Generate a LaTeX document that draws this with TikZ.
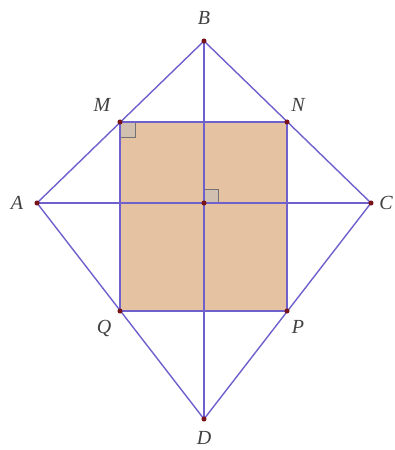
\documentclass[tikz,border=0pt]{standalone}
\usepackage{fontspec}
\setmainfont{Liberation Serif}
\usepackage{tikz}
\usetikzlibrary{calc}
\definecolor{edgeblue}{RGB}{110,96,205}
\definecolor{sqfill}{RGB}{228,194,162}
\definecolor{ptred}{RGB}{120,20,25}
\tikzset{
  seg/.style={draw=edgeblue, line width=1.05pt},
  pt/.style={circle, fill=ptred, inner sep=0pt, minimum size=3.8pt},
  lbl/.style={font=\fontsize{15}{17}\selectfont\itshape, text=black!75},
  ra/.style={draw=black!55, fill=black!25, fill opacity=0.5, line width=0.6pt}}
\begin{document}
\begin{tikzpicture}[x=0.75pt, y=-0.75pt]
  \useasboundingbox (0,0) rectangle (395,450);
  \coordinate (A) at (37,203); \coordinate (B) at (204,41);
  \coordinate (C) at (371,203); \coordinate (D) at (204,419);
  \coordinate (O) at (204,203);
  \coordinate (M) at (120,122); \coordinate (N) at (287,122);
  \coordinate (P) at (287,311); \coordinate (Q) at (120,311);
  \fill[sqfill] (M) rectangle (P);
  \draw[ra] (M) rectangle ++(15,15);
  \draw[ra] (O) rectangle ++(14,-14);
  \draw[seg] (M) -- (N) -- (P) -- (Q) -- cycle;
  \draw[seg] (A) -- (B) -- (C) -- (D) -- cycle;
  \draw[seg] (A) -- (C); \draw[seg] (B) -- (D);
  \foreach \p in {A,B,C,D,O,M,N,P,Q} \node[pt] at (\p) {};
  \node[lbl] (lB) at (204,18) {B};
  \node[lbl] (lM) at (102,105) {M};
  \node[lbl] (lN) at (298,105) {N};
  \node[lbl] (lA) at (17,203) {A};
  \node[lbl] (lC) at (386,203) {C};
  \node[lbl] (lQ) at (104,328) {Q};
  \node[lbl] (lP) at (298,327) {P};
  \node[lbl] (lD) at (204,438) {D};
\end{tikzpicture}
\end{document}
